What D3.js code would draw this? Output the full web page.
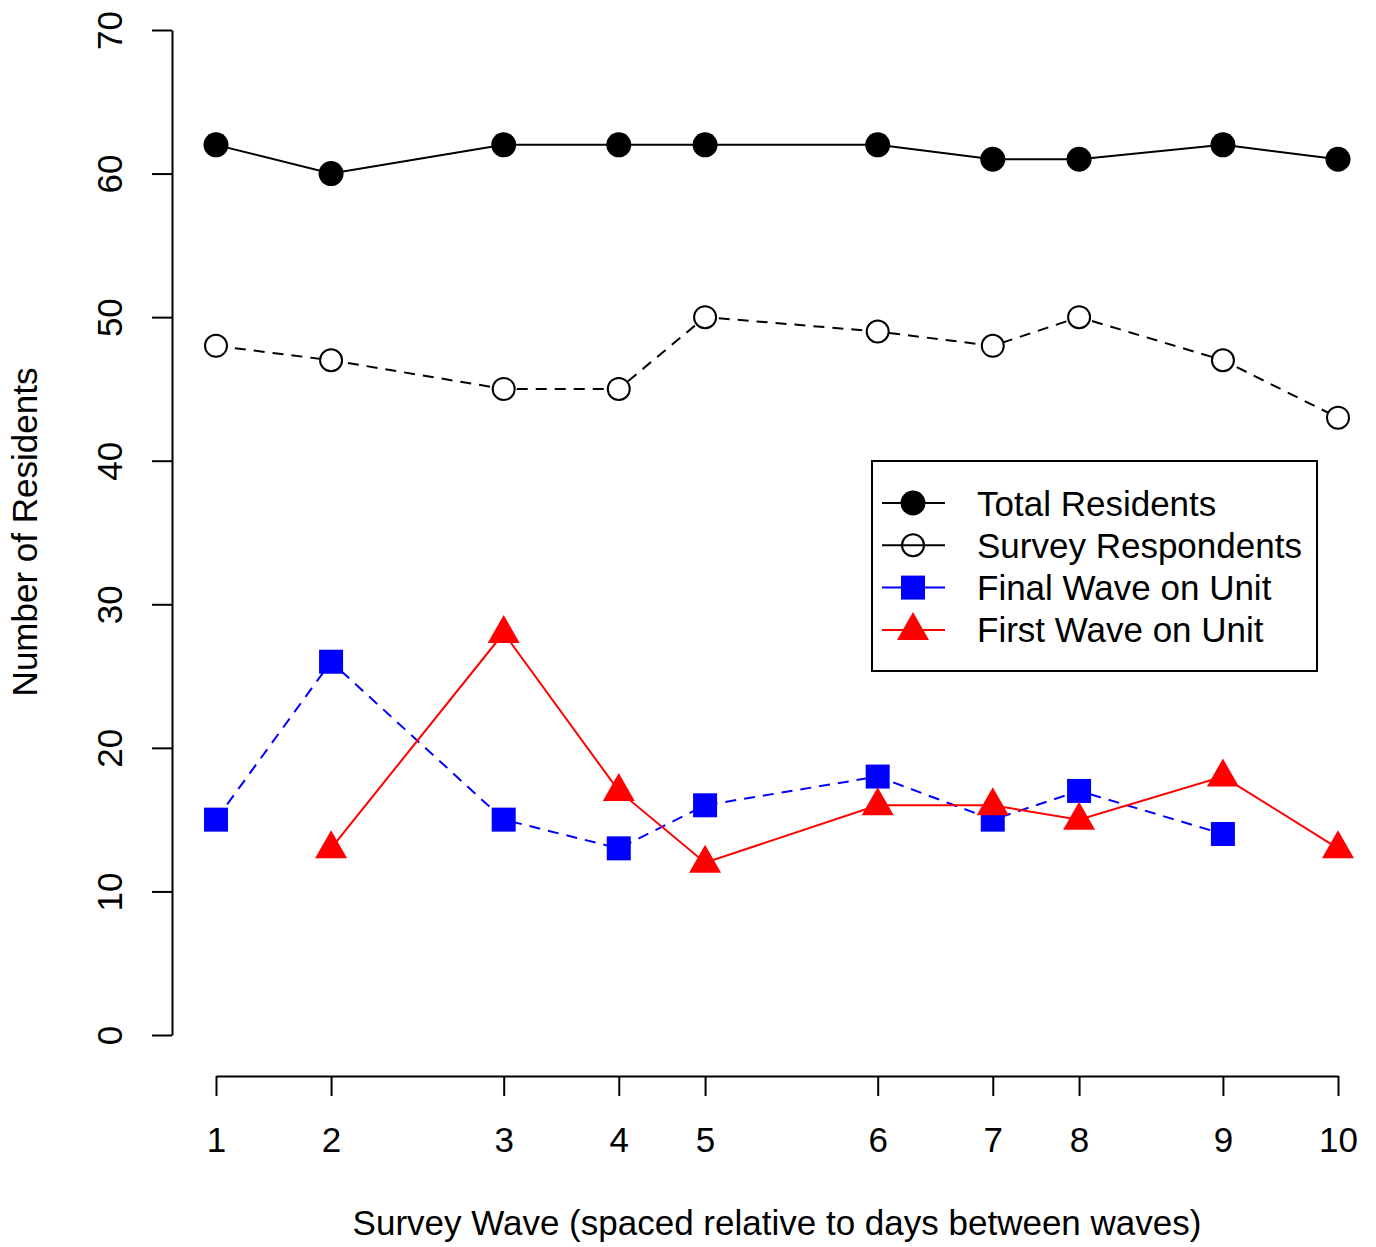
<!DOCTYPE html>
<html><head><meta charset="utf-8">
<script src="https://cdn.jsdelivr.net/npm/d3@7"></script>
<style>body{margin:0;background:#fff}svg{display:block}text{font-family:"Liberation Sans",Arial,sans-serif;fill:#000}</style>
</head><body>
<script>
const waves = [1,2,3,4,5,6,7,8,9,10];
const days = [0,4,10,14,17,23,27,30,35,39];
const totalResidents = [62,60,62,62,62,62,61,61,62,61];
const surveyRespondents = [48,47,45,45,50,49,48,50,47,43];
const finalWave = [15,26,15,13,16,18,15,17,14,null];
const firstWave = [null,13,28,17,12,16,16,15,18,13];
const yTicks = [0,10,20,30,40,50,60,70];
const legendLabels = ["Total Residents","Survey Respondents","Final Wave on Unit","First Wave on Unit"];

const W=1376,H=1247,FS=35;
const svg=d3.select("body").append("svg").attr("width",W).attr("height",H);
const x=d3.scaleLinear().domain([0,39]).range([216,1338]);
const y=d3.scaleLinear().domain([0,70]).range([1035,30]);

// y axis
const ya=svg.append("g").attr("transform","translate(172,0)")
  .call(d3.axisLeft(y).tickValues(yTicks).tickSize(20).tickSizeOuter(0).tickPadding(0));
ya.select(".domain").attr("stroke","#000").attr("stroke-width",2);
ya.selectAll(".tick line").attr("stroke","#000").attr("stroke-width",2);
ya.selectAll(".tick text").attr("font-size",FS).attr("text-anchor","middle")
  .attr("x",0).attr("dy",0)
  .attr("transform","translate(-50,0) rotate(-90)");
// x axis
const xa=svg.append("g").attr("transform","translate(0,1076)")
  .call(d3.axisBottom(x).tickValues(days).tickFormat((d,i)=>waves[i]).tickSize(20).tickSizeOuter(0).tickPadding(0));
xa.select(".domain").attr("stroke","#000").attr("stroke-width",2);
xa.selectAll(".tick line").attr("stroke","#000").attr("stroke-width",2);
xa.selectAll(".tick text").attr("font-size",FS).attr("y",76).attr("dy",0);

svg.append("text").attr("x",777).attr("y",1235).attr("text-anchor","middle").attr("font-size",FS)
  .text("Survey Wave (spaced relative to days between waves)");
svg.append("text").attr("transform","translate(37,532) rotate(-90)").attr("text-anchor","middle").attr("font-size",FS)
  .text("Number of Residents");

const series=[
  {v:totalResidents,color:"#000",dash:null,shape:"filledCircle"},
  {v:surveyRespondents,color:"#000",dash:"11,8",shape:"openCircle"},
  {v:finalWave,color:"#0000ff",dash:"11,8",shape:"square"},
  {v:firstWave,color:"#ff0000",dash:null,shape:"triangle"}
];
function drawSym(g,shape,cx,cy,color){
  if(shape==="filledCircle") g.append("circle").attr("cx",cx).attr("cy",cy).attr("r",12.5).attr("fill","#000");
  else if(shape==="openCircle") g.append("circle").attr("cx",cx).attr("cy",cy).attr("r",11).attr("fill","none").attr("stroke","#000").attr("stroke-width",2);
  else if(shape==="square") g.append("rect").attr("x",cx-12).attr("y",cy-12).attr("width",24).attr("height",24).attr("fill",color);
  else g.append("path").attr("d",`M${cx},${cy-18}L${cx+16},${cy+10}L${cx-16},${cy+10}Z`).attr("fill",color);
}
series.forEach(s=>{
  const pts=days.map((d,i)=>({d,v:s.v[i]})).filter(p=>p.v!=null);
  const line=d3.line().x(p=>x(p.d)).y(p=>y(p.v));
  const p=svg.append("path").attr("d",line(pts)).attr("fill","none").attr("stroke",s.color).attr("stroke-width",2);
  if(s.dash) p.attr("stroke-dasharray",s.dash);
  const g=svg.append("g");
  pts.forEach(pt=>{
    if(s.shape==="openCircle") g.append("circle").attr("cx",x(pt.d)).attr("cy",y(pt.v)).attr("r",11).attr("fill","#fff");
    drawSym(g,s.shape,x(pt.d),y(pt.v),s.color);
  });
});

// legend
const lg=svg.append("g");
lg.append("rect").attr("x",872).attr("y",461).attr("width",445).attr("height",210).attr("fill","#fff").attr("stroke","#000").attr("stroke-width",2);
series.forEach((s,i)=>{
  const cy=503+i*42.3;
  lg.append("line").attr("x1",882).attr("x2",945).attr("y1",cy).attr("y2",cy).attr("stroke",s.color).attr("stroke-width",2);
  drawSym(lg,s.shape,913,cy,s.color);
  lg.append("text").attr("x",977).attr("y",cy+12.5).attr("font-size",FS).text(legendLabels[i]);
});
</script>
</body></html>
